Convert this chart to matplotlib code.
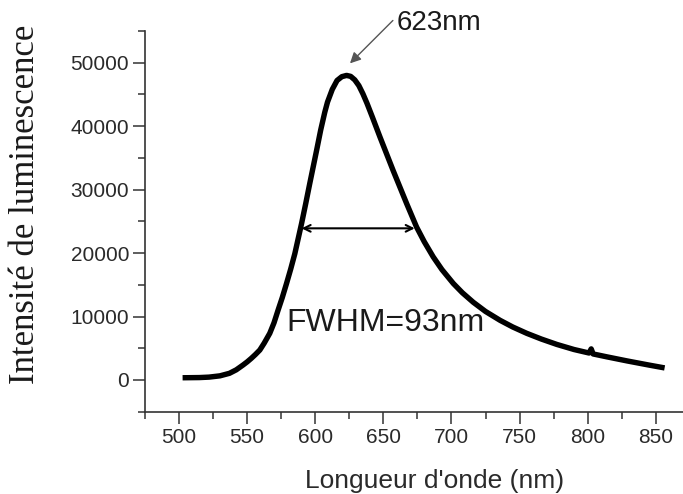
import numpy as np
import matplotlib.pyplot as plt
from matplotlib.ticker import MultipleLocator

# spectre de luminescence
wavelength = [502.6, 515, 522, 530, 537, 542, 547, 550, 553, 556, 559.3,
              562.5, 566.6, 569.7, 572.7, 575.8, 578.9, 582, 585, 587.5,
              590, 593, 596, 598.5, 601, 604, 607, 609, 612.5, 616, 619.5,
              623, 626, 629, 632, 635, 638, 642, 647.5, 657.2, 667.1, 674.4,
              680, 686.6, 693, 701.4, 708, 716, 725, 735.7, 745, 755.3, 766,
              777.4, 790, 801, 802.6, 804, 814, 829, 845, 856.5]
intensity = [350, 380, 450, 650, 1050, 1600, 2360, 2850, 3400, 4000, 4720,
             5800, 7350, 9000, 11000, 13000, 15200, 17500, 19900, 22300,
             24700, 27800, 31000, 33600, 36200, 39400, 42200, 43800, 45800,
             47200, 47800, 48000, 47850, 47300, 46400, 45100, 43600, 41400,
             38300, 33000, 27800, 24100, 21800, 19400, 17400, 15200, 13750,
             12250, 10800, 9400, 8350, 7350, 6450, 5600, 4800, 4250, 4900,
             4100, 3650, 3000, 2350, 1900]

peak_wl, peak_I = 623, 48000
fwhm_left, fwhm_right, half_I = 590, 673, 23900
x_ticks = [500, 550, 600, 650, 700, 750, 800, 850]
y_ticks = [0, 10000, 20000, 30000, 40000, 50000]

plt.rcParams['font.family'] = ['Liberation Sans', 'DejaVu Sans']

fig = plt.figure(figsize=(6.83, 4.94), dpi=100)
ax = fig.add_axes([145 / 683, 82.3 / 494, 1 - 145 / 683, (411.7 - 31) / 494])

ax.plot(wavelength, intensity, color='black', lw=3.9, solid_capstyle='butt',
        solid_joinstyle='round')

ax.set_xlim(475, 870)
ax.set_ylim(-5000, 55000)
ax.set_xticks(x_ticks)
ax.set_yticks(y_ticks)
ax.xaxis.set_minor_locator(MultipleLocator(25))
ax.yaxis.set_minor_locator(MultipleLocator(5000))

for s in ['top', 'right']:
    ax.spines[s].set_visible(False)
for s in ['left', 'bottom']:
    ax.spines[s].set_linewidth(1.2)
    ax.spines[s].set_color('#333333')

ax.tick_params(which='major', direction='out', length=8.4, width=1.1,
               color='#333333', labelsize=15, labelcolor='#2a2a2a', pad=3)
ax.tick_params(which='minor', direction='out', length=4.8, width=1.1,
               color='#333333')

# FWHM
ax.annotate('', xy=(fwhm_left, half_I), xytext=(fwhm_right, half_I),
            arrowprops=dict(arrowstyle='<->', color='black', lw=1.5,
                            mutation_scale=12, shrinkA=0, shrinkB=0))
ax.text(579, 7700, 'FWHM=93nm', fontsize=23, color='#1a1a1a',
        ha='left', va='baseline')

# pic
ax.annotate('', xy=(625.5, 49900), xytext=(657, 56660),
            arrowprops=dict(arrowstyle='-|>', color='#555555', lw=1.0,
                            mutation_scale=16, shrinkA=0, shrinkB=0),
            annotation_clip=False)
ax.text(660, 55090, '%dnm' % peak_wl, fontsize=20, color='#1a1a1a',
        ha='left', va='baseline', clip_on=False)

fig.text(434.6 / 683, 6 / 494, "Longueur d'onde (nm)", fontsize=19,
         color='#2a2a2a', ha='center', va='baseline')
fig.text(26 / 683, 1 - 204 / 494, 'Intensité de luminescence',
         family=['Liberation Serif', 'DejaVu Serif'], fontsize=25,
         rotation=90, ha='center', va='center', color='#1a1a1a')

fig.savefig('out.png', dpi=100)
